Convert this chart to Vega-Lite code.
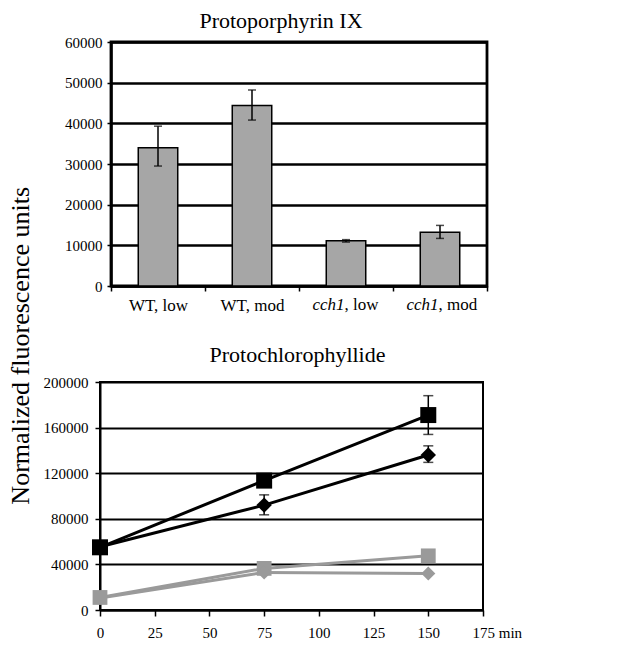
{
  "$schema": "https://vega.github.io/schema/vega-lite/v6.json",
  "background": "white",
  "padding": {"left": 7, "top": 8, "right": 5, "bottom": 5},
  "config": {
    "font": "Liberation Serif",
    "axis": {"labelFont": "Liberation Serif", "labelColor": "black", "domainColor": "black", "tickColor": "black", "gridColor": "black", "gridOpacity": 1},
    "title": {"font": "Liberation Serif", "fontWeight": "normal", "color": "black"}
  },
  "title": {"text": "Normalized fluorescence units", "orient": "left", "anchor": "middle", "fontSize": 26, "offset": 4.5, "dx": -21},
  "spacing": {"row": 28, "column": 0},
  "columns": 2,
  "align": "none",
  "concat": [
    {
      "width": 1, "height": 1, "view": {"stroke": null},
      "data": {"values": [{}]},
      "mark": {"type": "text"},
      "encoding": {"text": {"value": ""}}
    },
    {
      "width": 376,
      "height": 244,
      "view": {"stroke": "black", "strokeWidth": 2.8},
      "title": {"text": "Protoporphyrin IX", "fontSize": 22, "dx": -18, "offset": 2},
      "data": {"values": [
        {"g": "WT, low", "v": 34000, "lo": 29500, "hi": 39300, "ital": "", "rest": ""},
        {"g": "WT, mod", "v": 44400, "lo": 40800, "hi": 48200, "ital": "", "rest": ""},
        {"g": "cch1, low", "v": 11100, "lo": 10800, "hi": 11400, "ital": "cch1", "rest": ", low"},
        {"g": "cch1, mod", "v": 13200, "lo": 11700, "hi": 14900, "ital": "cch1", "rest": ", mod"}
      ]},
      "encoding": {
        "x": {"field": "g", "type": "nominal", "sort": null,
          "scale": {"paddingInner": 0, "paddingOuter": 0},
          "axis": {"title": null, "tickBand": "extent", "labelAngle": 0, "labelFontSize": 17, "labelPadding": 6, "tickSize": 5, "tickWidth": 1.5, "domainWidth": 2.5,
            "labelExpr": "indexof(datum.label, 'cch1') >= 0 ? '' : datum.label"}}
      },
      "layer": [
        {
          "mark": {"type": "bar", "fill": "#a6a6a6", "stroke": "black", "strokeWidth": 1.5, "width": {"band": 0.42}},
          "encoding": {
            "y": {"field": "v", "type": "quantitative", "scale": {"domain": [0, 60000]},
              "axis": {"title": null, "values": [0, 10000, 20000, 30000, 40000, 50000, 60000], "format": "d", "grid": true, "gridWidth": 2.7, "domainWidth": 2.5, "tickSize": 4, "tickWidth": 1.5, "labelPadding": 5, "labelFontSize": 15, "minExtent": 70, "maxExtent": 70}}
          }
        },
        {
          "mark": {"type": "rule", "color": "black", "strokeWidth": 1.5},
          "encoding": {"y": {"field": "lo", "type": "quantitative"}, "y2": {"field": "hi"}}
        },
        {
          "mark": {"type": "tick", "orient": "horizontal", "size": 8, "thickness": 1.5, "color": "black"},
          "encoding": {"y": {"field": "lo", "type": "quantitative"}}
        },
        {
          "mark": {"type": "tick", "orient": "horizontal", "size": 8, "thickness": 1.5, "color": "black"},
          "encoding": {"y": {"field": "hi", "type": "quantitative"}}
        },
        {
          "transform": [{"filter": "datum.ital != ''"}],
          "mark": {"type": "text", "align": "right", "baseline": "top", "fontSize": 17, "fontStyle": "italic", "color": "black", "dy": 11, "dx": -1.5},
          "encoding": {"y": {"datum": 0}, "text": {"field": "ital"}}
        },
        {
          "transform": [{"filter": "datum.ital != ''"}],
          "mark": {"type": "text", "align": "left", "baseline": "top", "fontSize": 17, "color": "black", "dy": 11, "dx": -1.5},
          "encoding": {"y": {"datum": 0}, "text": {"field": "rest"}}
        }
      ]
    },
    {
      "width": 1, "height": 1, "view": {"stroke": null},
      "data": {"values": [{}]},
      "mark": {"type": "text"},
      "encoding": {"text": {"value": ""}}
    },
    {
      "width": 383,
      "height": 228,
      "view": {"stroke": "black", "strokeWidth": 2},
      "title": {"text": "Protochlorophyllide", "fontSize": 22, "dx": 6, "offset": 8},
      "data": {"values": [
        {"s": "WT, mod", "t": 0, "v": 55000, "lo": null, "hi": null},
        {"s": "WT, mod", "t": 75, "v": 113500, "lo": 109500, "hi": 117500},
        {"s": "WT, mod", "t": 150, "v": 171000, "lo": 154000, "hi": 188000},
        {"s": "WT, low", "t": 0, "v": 55500, "lo": null, "hi": null},
        {"s": "WT, low", "t": 75, "v": 92000, "lo": 83500, "hi": 101000},
        {"s": "WT, low", "t": 150, "v": 136000, "lo": 129500, "hi": 144000},
        {"s": "cch1, mod", "t": 0, "v": 11000, "lo": null, "hi": null},
        {"s": "cch1, mod", "t": 75, "v": 36500, "lo": null, "hi": null},
        {"s": "cch1, mod", "t": 150, "v": 47500, "lo": null, "hi": null},
        {"s": "cch1, low", "t": 0, "v": 10500, "lo": null, "hi": null},
        {"s": "cch1, low", "t": 75, "v": 33000, "lo": null, "hi": null},
        {"s": "cch1, low", "t": 150, "v": 32000, "lo": null, "hi": null}
      ]},
      "encoding": {
        "x": {"field": "t", "type": "quantitative", "scale": {"domain": [0, 175]},
          "axis": {"title": null, "values": [0, 25, 50, 75, 100, 125, 150, 175], "grid": false, "labelFontSize": 15, "labelPadding": 9, "tickSize": 6, "tickWidth": 1.5, "domainWidth": 2,
            "labelExpr": "datum.value == 175 ? '175 min' : datum.label",
            "labelAlign": {"condition": {"test": "datum.value == 175", "value": "left"}, "value": "center"},
            "labelOffset": {"condition": {"test": "datum.value == 175", "value": -11}, "value": 0}}}
      },
      "layer": [
        {
          "mark": {"type": "line"},
          "encoding": {
            "y": {"field": "v", "type": "quantitative", "scale": {"domain": [0, 200000]},
              "axis": {"title": null, "values": [0, 40000, 80000, 120000, 160000, 200000], "format": "d", "grid": true, "gridWidth": 2, "domainWidth": 2, "tickSize": 5, "tickWidth": 1.5, "labelPadding": 7, "labelFontSize": 15, "minExtent": 59.5, "maxExtent": 59.5}},
            "color": {"field": "s", "type": "nominal", "legend": null,
              "scale": {"domain": ["WT, mod", "WT, low", "cch1, mod", "cch1, low"], "range": ["#000000", "#000000", "#9a9a9a", "#9a9a9a"]}},
            "strokeWidth": {"field": "s", "type": "nominal", "legend": null,
              "scale": {"domain": ["WT, mod", "WT, low", "cch1, mod", "cch1, low"], "range": [3, 3, 2.2, 2.2]}}
          }
        },
        {
          "mark": {"type": "rule", "color": "black", "strokeWidth": 1.5},
          "encoding": {"y": {"field": "lo", "type": "quantitative"}, "y2": {"field": "hi"}}
        },
        {
          "mark": {"type": "tick", "orient": "horizontal", "size": 10, "thickness": 1.5, "color": "black"},
          "encoding": {"y": {"field": "lo", "type": "quantitative"}}
        },
        {
          "mark": {"type": "tick", "orient": "horizontal", "size": 10, "thickness": 1.5, "color": "black"},
          "encoding": {"y": {"field": "hi", "type": "quantitative"}}
        },
        {
          "mark": {"type": "point", "filled": true, "opacity": 1},
          "encoding": {
            "y": {"field": "v", "type": "quantitative"},
            "color": {"field": "s", "type": "nominal", "legend": null},
            "shape": {"field": "s", "type": "nominal", "legend": null,
              "scale": {"domain": ["WT, mod", "WT, low", "cch1, mod", "cch1, low"], "range": ["square", "diamond", "square", "diamond"]}},
            "size": {"field": "s", "type": "nominal", "legend": null,
              "scale": {"domain": ["WT, mod", "WT, low", "cch1, mod", "cch1, low"], "range": [256, 200, 240, 144]}}
          }
        }
      ]
    }
  ]
}
